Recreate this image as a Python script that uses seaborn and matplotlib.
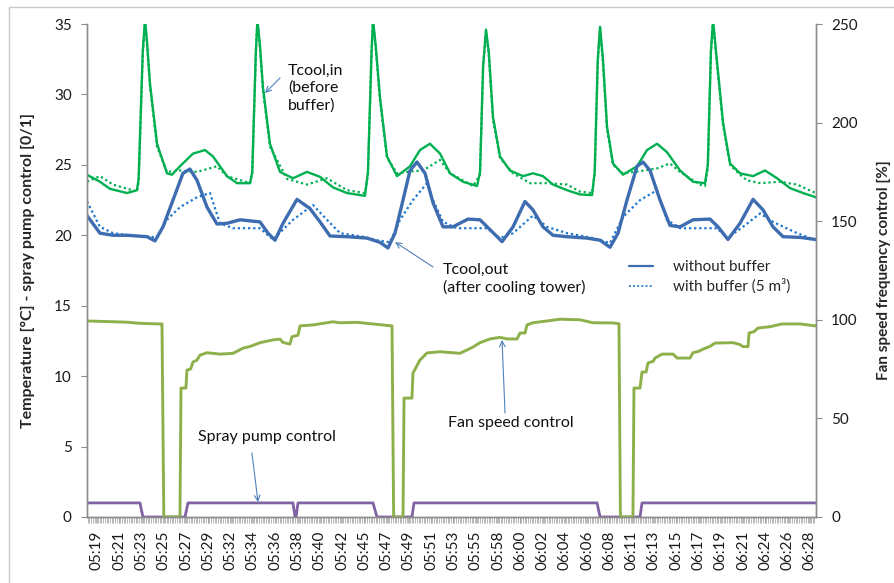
import matplotlib
matplotlib.use("Agg")
import matplotlib.pyplot as plt
from matplotlib.lines import Line2D
import numpy as np
import pandas as pd
import seaborn as sns

# ---------------- data (x = minutes after 05:19) ----------------
tick_labels = ["05:19", "05:21", "05:23", "05:25", "05:27", "05:29", "05:32", "05:34",
               "05:36", "05:38", "05:40", "05:42", "05:45", "05:47", "05:49", "05:51",
               "05:53", "05:55", "05:58", "06:00", "06:02", "06:04", "06:06", "06:08",
               "06:11", "06:13", "06:15", "06:17", "06:19", "06:21", "06:24", "06:26",
               "06:28"]
tick_step_min = 130 / 60.0   # one label every 13 samples of 10 s
sample_step_min = 10 / 60.0

tin_x = [-0.97, 0.29, 1.26, 2.92, 3.89, 4.05, 4.45, 4.67, 4.86, 5.15, 5.84, 6.81, 7.29, 8.07,
         9.34, 10.50, 11.28, 12.64, 13.62, 14.88, 15.10, 15.45, 15.60, 15.85, 16.14, 16.82,
         17.80, 19.06, 20.42, 21.69, 22.95, 24.31, 26.06, 26.35, 26.70, 26.84, 27.10, 27.52,
         28.20, 29.18, 30.44, 31.41, 32.38, 33.36, 34.33, 35.59, 36.96, 37.25, 37.55, 37.83,
         38.10, 38.51, 39.19, 40.16, 41.43, 42.40, 43.37, 44.35, 45.71, 46.97, 48.14, 48.40,
         48.70, 48.92, 49.20, 49.60, 50.18, 51.15, 52.52, 53.49, 54.46, 55.43, 56.70, 57.96,
         59.13, 59.40, 59.70, 59.91, 60.20, 60.88, 61.56, 62.53, 63.80, 64.96, 66.13, 67.39,
         68.66, 69.90]
tin_nobuf = [24.3, 23.8, 23.3, 23.0, 23.2, 24.0, 33.0, 35.3, 33.8, 30.8, 26.5, 24.4, 24.3, 24.9,
             25.8, 26.05, 25.6, 24.2, 23.7, 23.7, 24.5, 33.0, 35.3, 33.5, 30.5, 26.5,
             24.5, 24.05, 24.5, 24.15, 23.4, 23.0, 22.8, 24.5, 33.0, 35.3, 33.5, 29.8,
             25.6, 24.2, 24.9, 26.05, 26.5, 25.8, 24.4, 23.8, 23.5, 24.5, 32.0, 34.6,
             33.0, 28.4, 25.6, 24.6, 24.2, 24.4, 24.2, 23.6, 23.2, 22.9, 22.85, 24.5,
             32.5, 34.8, 32.5, 27.7, 25.1, 24.3, 24.9, 26.05, 26.5, 25.9, 24.6, 23.8,
             23.7, 25.0, 33.0, 35.3, 33.0, 28.0, 25.1, 24.4, 24.2, 24.6, 24.05, 23.35,
             23.0, 22.7]

tinb_x = [-0.97, 0.29, 1.56, 3.89, 4.05, 4.45, 4.67, 4.86, 5.15, 5.84, 6.81, 8.07, 9.73, 11.67,
          12.64, 14.88, 15.10, 15.45, 15.60, 15.85, 16.14, 16.82, 18.48, 20.42, 22.37, 24.31,
          26.06, 26.35, 26.70, 26.84, 27.10, 27.52, 28.20, 29.18, 30.73, 31.70, 33.36, 34.33,
          36.57, 37.25, 37.55, 37.83, 38.10, 38.51, 39.19, 40.46, 42.11, 43.76, 45.71, 46.97,
          48.14, 48.40, 48.70, 48.92, 49.20, 49.60, 50.18, 51.15, 52.81, 54.46, 55.72, 56.70,
          58.64, 59.13, 59.40, 59.70, 59.91, 60.20, 60.88, 61.56, 62.53, 63.21, 64.48, 66.42,
          68.08, 69.90]
tin_buf = [23.8, 24.2, 23.6, 23.1, 23.8, 32.8, 35.3, 33.6, 30.6, 26.3, 24.5, 24.6, 24.5, 24.9,
           24.2, 23.7, 24.4, 33.0, 35.3, 33.3, 30.3, 26.3, 24.0, 23.6, 24.05, 23.2,
           23.0, 24.3, 33.0, 35.3, 33.3, 29.6, 25.5, 24.4, 24.55, 24.6, 25.35, 24.4,
           23.5, 24.3, 32.0, 34.5, 32.8, 28.2, 25.5, 24.4, 23.7, 23.7, 23.6, 23.1,
           23.0, 24.3, 32.3, 34.7, 32.3, 27.5, 25.0, 24.4, 24.55, 24.75, 25.1, 24.5,
           23.6, 23.5, 24.8, 33.0, 35.3, 32.8, 27.8, 25.0, 24.3, 23.9, 23.7, 23.8,
           23.6, 23.0]

tout_x = [-0.97, 0.29, 1.56, 2.92, 4.86, 5.64, 6.42, 7.39, 8.36, 9.04, 9.73, 10.70, 11.67,
          12.64, 13.91, 15.85, 16.63, 17.31, 18.09, 19.45, 20.71, 21.69, 22.66, 24.31, 26.26,
          27.52, 28.30, 28.98, 29.76, 30.44, 31.12, 31.90, 32.68, 33.65, 34.62, 36.08, 37.25,
          38.22, 39.39, 40.46, 41.62, 42.40, 43.37, 44.35, 45.71, 47.65, 48.92, 49.89, 50.67,
          51.54, 52.52, 53.10, 53.78, 54.75, 55.72, 56.70, 57.96, 59.61, 60.39, 61.36, 62.53,
          63.80, 64.77, 65.74, 66.71, 68.37, 69.90]
tout_nobuf = [21.4, 20.15, 20.0, 20.0, 19.9, 19.6, 20.6, 22.5, 24.4, 24.7, 23.9, 22.0, 20.8,
              20.85, 21.1, 20.95, 20.15, 19.65, 20.85, 22.55, 21.9, 20.95, 19.95, 19.9, 19.8,
              19.5, 19.1, 20.15, 22.5, 24.6, 25.2, 24.4, 22.3, 20.6, 20.6, 21.15, 21.1,
              20.4, 19.55, 20.6, 22.4, 21.8, 20.6, 20.0, 19.9, 19.8, 19.65, 19.15, 20.15,
              22.5, 24.9, 25.2, 24.6, 22.5, 20.7, 20.6, 21.1, 21.15, 20.6, 19.7, 20.85,
              22.55, 21.8, 20.6, 19.9, 19.85, 19.7]

toutb_x = [-0.97, 0.29, 1.56, 3.21, 5.84, 6.81, 8.07, 9.73, 10.99, 11.96, 13.23, 15.85, 17.12,
           19.06, 21.01, 22.37, 23.63, 25.87, 27.23, 28.49, 29.47, 30.73, 32.09, 32.68, 33.65,
           35.01, 37.93, 39.19, 40.46, 42.40, 43.76, 45.71, 48.24, 49.89, 51.15, 52.81, 54.46,
           55.43, 56.70, 60.30, 61.27, 62.82, 64.48, 65.74, 68.08, 69.90]
tout_buf = [22.4, 20.6, 20.15, 20.0, 19.85, 21.1, 22.0, 22.7, 23.0, 20.85, 20.5, 20.5, 19.7,
            21.1, 22.15, 21.1, 20.15, 19.9, 19.65, 19.5, 21.1, 22.5, 23.7, 22.5, 20.95,
            20.5, 20.5, 19.8, 20.15, 21.4, 20.6, 20.15, 19.8, 19.45, 21.3, 22.5, 23.2,
            21.1, 20.5, 20.5, 19.8, 20.6, 21.55, 20.95, 20.15, 19.65]

fan_x = [-0.97, 2.92, 4.18, 6.13, 6.32, 6.50, 8.07, 8.17, 8.65, 8.75, 9.10, 9.34, 9.73, 10.02,
         10.70, 11.96, 13.23, 14.20, 14.90, 15.85, 17.12, 17.80, 18.09, 18.77, 18.96, 19.55,
         19.74, 21.01, 22.95, 23.60, 25.29, 26.84, 28.69, 28.85, 29.76, 29.86, 30.63, 30.73,
         31.41, 32.09, 33.36, 35.30, 35.90, 36.57, 37.25, 38.22, 39.19, 39.87, 40.85, 41.14,
         41.62, 41.82, 42.40, 43.76, 45.03, 46.97, 48.24, 50.18, 50.76, 50.90, 52.12, 52.22,
         52.81, 53.00, 53.40, 53.58, 54.10, 54.27, 54.95, 56.02, 56.41, 57.67, 57.96, 58.50,
         58.93, 59.60, 60.10, 61.85, 62.50, 62.82, 63.31, 63.41, 63.90, 64.28, 65.45, 66.62,
         68.37, 69.90]
fan_speed = [99.4, 98.8, 98.2, 97.9, 97.9, 0.0, 0.0, 65.4, 65.4, 74.5, 75.0, 78.6, 79.6, 82.1,
             83.3, 82.6, 83.0, 85.6, 86.5, 88.4, 89.8, 90.2, 88.5, 87.7, 91.4, 92.2,
             96.9, 97.4, 99.0, 98.5, 98.7, 97.9, 96.9, 0.0, 0.0, 60.3, 60.3, 73.0,
             79.6, 83.2, 83.8, 83.0, 84.5, 86.2, 88.4, 90.3, 91.1, 90.3, 90.3, 93.3,
             93.3, 97.4, 98.5, 99.4, 100.3, 100.0, 98.5, 98.4, 98.0, 0.0, 0.0, 65.4,
             65.4, 73.5, 73.5, 78.1, 79.0, 80.6, 82.6, 82.6, 80.6, 80.6, 83.3, 84.0,
             85.1, 86.5, 88.2, 88.4, 87.5, 86.4, 86.4, 93.3, 94.0, 95.8, 96.5, 97.9,
             97.9, 96.9]

pump_x = [-0.97, 4.18, 4.47, 8.56, 8.85, 19.06, 19.26, 19.36, 19.55, 26.84, 27.23, 30.63,
          30.83, 48.63, 48.92, 52.81, 53.00, 69.90]
pump_on = [1, 1, 0, 0, 1, 1, 0, 0, 1, 1, 0, 0, 1, 1, 0, 0, 1, 1]

# ---------------- style ----------------
sns.set_style("white")
plt.rcParams["font.family"] = ["Lato", "DejaVu Sans"]

C_GREEN = "#00B050"
C_BLUE = "#3D6CB0"
C_BLUE_DOT = "#1876D0"
C_FAN = "#8DB04B"
C_PUMP = "#7F62A3"
C_ARROW = "#4F81BD"
C_AXIS = "#8C8C8C"
DOT = (0, (1, 1.3))

fig = plt.figure(figsize=(8.95, 5.83), dpi=100)
ax = fig.add_axes([87 / 895, 66 / 583, 729 / 895, 493 / 583])
ax2 = ax.twinx()

kw = dict(estimator=None, sort=False, legend=False)
sns.lineplot(x=tin_x, y=tin_nobuf, ax=ax, color=C_GREEN, lw=1.7, **kw)
sns.lineplot(x=tinb_x, y=tin_buf, ax=ax, color=C_GREEN, lw=1.6, linestyle=DOT, **kw)
sns.lineplot(x=toutb_x, y=tout_buf, ax=ax, color=C_BLUE_DOT, lw=1.6, linestyle=DOT, **kw)
sns.lineplot(x=tout_x, y=tout_nobuf, ax=ax, color=C_BLUE, lw=2.4, **kw)
sns.lineplot(x=pump_x, y=pump_on, ax=ax, color=C_PUMP, lw=2.0, **kw)
sns.lineplot(x=fan_x, y=fan_speed, ax=ax2, color=C_FAN, lw=2.1, **kw)

xmin, xmax = -0.97, 69.92
ax.set_xlim(xmin, xmax)
ax.set_ylim(0, 35)
ax2.set_ylim(0, 250)

ax.set_yticks(np.arange(0, 36, 5))
ax2.set_yticks(np.arange(0, 251, 50))
major = [k * tick_step_min for k in range(len(tick_labels))]
ax.set_xticks(major)
ax.set_xticklabels(tick_labels, rotation=90)
ax.set_xticks(np.arange(-0.9, xmax, sample_step_min), minor=True)

for a in (ax, ax2):
    for s in a.spines.values():
        s.set_color(C_AXIS)
        s.set_linewidth(1.0)
    a.spines["top"].set_visible(False)
    a.grid(False)

ax.tick_params(axis="y", which="major", direction="out", length=4, width=0.8,
               color=C_AXIS, labelsize=11, pad=7, labelcolor="#1a1a1a", left=True)
ax.tick_params(axis="x", which="both", direction="out", length=4, width=0.5,
               color="#9a9a9a", labelsize=11, pad=6, labelcolor="#1a1a1a", bottom=True)
ax2.tick_params(axis="y", which="major", direction="out", length=4, width=0.8,
                color=C_AXIS, labelsize=11, pad=7, labelcolor="#1a1a1a", right=True)

ax.set_xlabel("")
ax.set_ylabel("Temperature [°C] - spray pump control [0/1]", fontsize=11.5, fontweight="bold")
ax2.set_ylabel("Fan speed frequency control [%]", fontsize=11, fontweight="bold")
ax.yaxis.set_label_coords((35 - 87) / 729, 0.5)
ax2.yaxis.set_label_coords((877 - 87) / 729, 0.5)

# ---------------- annotations ----------------
arr = dict(arrowstyle="->", color=C_ARROW, lw=0.8, shrinkA=0, shrinkB=0)
ax.text(18.57, 32.2, "Tcool,in\n(before\nbuffer)", fontsize=11.5, va="top", ha="left",
        linespacing=1.3, color="#111111")
ax.annotate("", xy=(16.34, 30.1), xytext=(17.80, 31.17), arrowprops=arr)

ax.text(33.65, 18.05, "Tcool,out\n(after cooling tower)", fontsize=11.5, va="top", ha="left",
        linespacing=1.25, color="#111111")
ax.annotate("", xy=(28.98, 19.52), xytext=(32.68, 17.75), arrowprops=arr)

ax.text(34.13, 6.67, "Fan speed control", fontsize=11.5, va="center", ha="left", color="#111111")
ax.annotate("", xy=(39.39, 12.57), xytext=(39.68, 7.38), arrowprops=arr)

ax.text(9.82, 5.68, "Spray pump control", fontsize=11.5, va="center", ha="left", color="#111111")
ax.annotate("", xy=(15.66, 1.06), xytext=(15.07, 4.54), arrowprops=arr)

handles = [Line2D([], [], color=C_BLUE, lw=1.6),
           Line2D([], [], color=C_BLUE_DOT, lw=1.3, linestyle=DOT)]
ax2.legend(handles, ["without buffer", "with buffer (5 m³)"], loc="upper left",
           bbox_to_anchor=((629 - 87) / 729, (517 - 260) / 493), frameon=False,
           fontsize=11, handlelength=1.6, handletextpad=1.3, labelspacing=0.3,
           borderaxespad=0, borderpad=0)

# chart-area border (left and top edges visible)
fig.add_artist(Line2D([9 / 895, 9 / 895], [0, 1 - 7 / 583], transform=fig.transFigure,
                      color="#c8c8c8", lw=1.0))
fig.add_artist(Line2D([9 / 895, 1], [1 - 7 / 583, 1 - 7 / 583], transform=fig.transFigure,
                      color="#c8c8c8", lw=1.0))

fig.savefig("out.png", dpi=100)
